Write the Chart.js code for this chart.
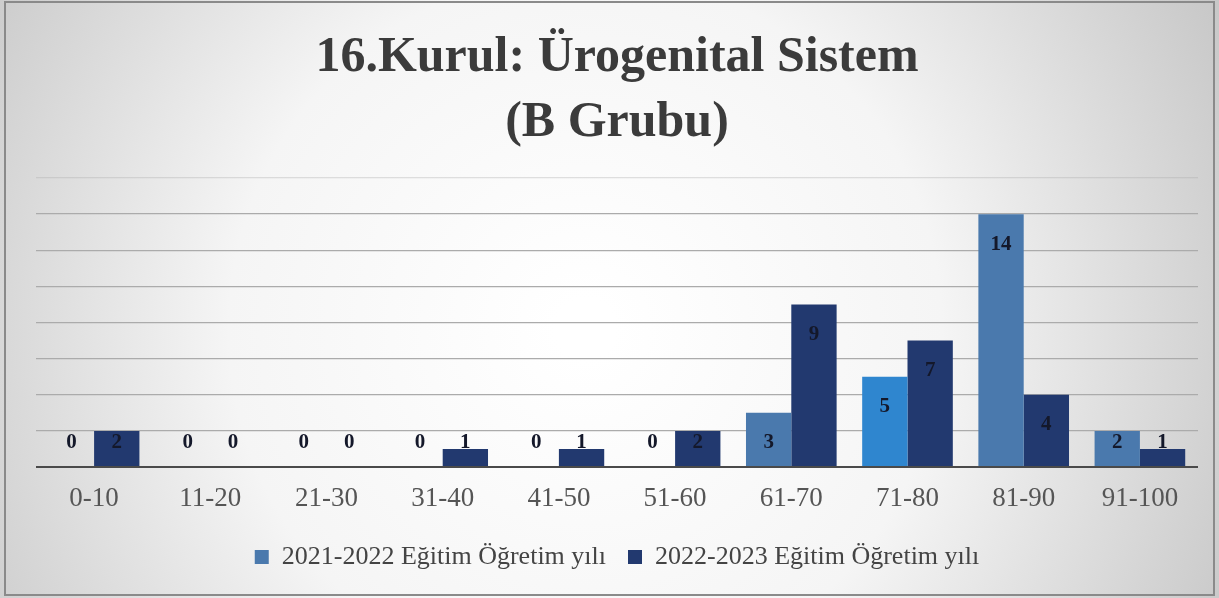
<!DOCTYPE html>
<html>
<head>
<meta charset="utf-8">
<script src="https://cdn.jsdelivr.net/npm/chart.js@4.4.0/dist/chart.umd.min.js"></script>
<style>
    html, body { margin: 0; padding: 0; background: #fff; }
    #wrap { width: 1219px; height: 598px; position: relative; }
</style>
</head>
<body>
<div id="wrap"><canvas id="kurulChart"></canvas></div>
<script>
const categories = ['0-10', '11-20', '21-30', '31-40', '41-50', '51-60', '61-70', '71-80', '81-90', '91-100'];
const year2122 = [0, 0, 0, 0, 0, 0, 3, 5, 14, 2];
const year2223 = [2, 0, 0, 1, 1, 2, 9, 7, 4, 1];
const seriesNames = ['2021-2022 Eğitim Öğretim yılı', '2022-2023 Eğitim Öğretim yılı'];
const titleLines = ['16.Kurul: Ürogenital Sistem', '(B Grubu)'];

// light blue bars, the 71-80 one is brighter in the original
const lightColors = year2122.map((v, i) => categories[i] === '71-80' ? '#2f86cf' : '#4a79ad');

const backgroundPlugin = {
    id: 'bg',
    beforeDraw(chart) {
        const c = chart.ctx;
        const w = chart.width, h = chart.height;
        c.save();
        const g = c.createRadialGradient(w * 0.48, h * 0.55, 30, w * 0.48, h * 0.55, w * 0.62);
        g.addColorStop(0, '#ffffff');
        g.addColorStop(0.45, '#f5f5f5');
        g.addColorStop(1, '#c2c2c2');
        c.fillStyle = g;
        c.fillRect(0, 0, w, h);
        c.strokeStyle = '#8a8a8a';
        c.lineWidth = 2;
        c.strokeRect(5, 2, w - 10, h - 5);
        c.restore();
    }
};

const valueLabels = {
    id: 'valueLabels',
    afterDatasetsDraw(chart) {
        const c = chart.ctx;
        const base = chart.scales.y.getPixelForValue(0);
        c.save();
        c.font = 'bold 21px "Liberation Serif", serif';
        c.fillStyle = '#14182a';
        c.textAlign = 'center';
        c.textBaseline = 'middle';
        chart.data.datasets.forEach((ds, di) => {
            chart.getDatasetMeta(di).data.forEach((bar, i) => {
                const y = Math.min(bar.y + 30, base - 24);
                c.fillText(String(ds.data[i]), bar.x, y);
            });
        });
        c.restore();
    }
};

const ctx = document.getElementById('kurulChart').getContext('2d');

new Chart(ctx, {
    type: 'bar',
    data: {
        labels: categories,
        datasets: [
            {
                label: seriesNames[0],
                data: year2122,
                backgroundColor: lightColors,
                borderWidth: 0,
                categoryPercentage: 0.78,
                barPercentage: 1.0
            },
            {
                label: seriesNames[1],
                data: year2223,
                backgroundColor: '#22396f',
                borderWidth: 0,
                categoryPercentage: 0.78,
                barPercentage: 1.0
            }
        ]
    },
    plugins: [backgroundPlugin, valueLabels],
    options: {
        responsive: true,
        maintainAspectRatio: false,
        animation: false,
        layout: {
            padding: { top: 12, left: 36, right: 21, bottom: 18 }
        },
        plugins: {
            title: {
                display: true,
                text: titleLines,
                color: '#3b3b3b',
                font: { family: '"Liberation Serif", serif', size: 50, weight: 'bold', lineHeight: 1.3 },
                padding: { top: 14, bottom: 22 }
            },
            legend: {
                position: 'bottom',
                labels: {
                    color: '#444',
                    font: { family: '"Liberation Serif", serif', size: 26 },
                    boxWidth: 14,
                    boxHeight: 14,
                    padding: 22,
                    generateLabels: function (chart) {
                        return chart.data.datasets.map((ds, i) => ({
                            text: ds.label,
                            fillStyle: i === 0 ? '#4a79ad' : '#22396f',
                            strokeStyle: 'transparent',
                            lineWidth: 0,
                            fontColor: '#444',
                            datasetIndex: i
                        }));
                    }
                }
            },
            tooltip: { enabled: false }
        },
        scales: {
            x: {
                grid: { display: false, drawTicks: false },
                border: { display: false },
                ticks: {
                    color: '#555',
                    font: { family: '"Liberation Serif", serif', size: 27 },
                    padding: 16
                },
                afterFit: function (scale) {
                    scale.height = 55;
                }
            },
            y: {
                min: 0,
                max: 16,
                ticks: { display: false, stepSize: 2 },
                border: { display: false },
                grid: {
                    drawTicks: false,
                    color: function (c) {
                        if (c.tick.value === 0) return '#4a4a4a';
                        if (c.tick.value === 16) return 'rgba(170,170,170,0.35)';
                        return '#ababab';
                    },
                    lineWidth: function (c) {
                        return c.tick.value === 0 ? 2 : 1.3;
                    }
                }
            }
        }
    }
});
</script>
</body>
</html>
